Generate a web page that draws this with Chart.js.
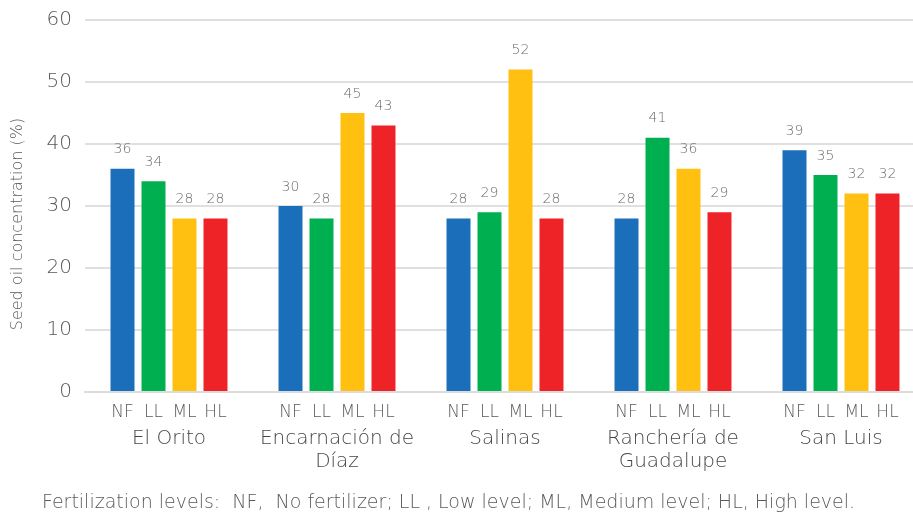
<!DOCTYPE html>
<html>
<head>
<meta charset="utf-8">
<script src="https://cdn.jsdelivr.net/npm/chart.js@4"></script>
<style>
    html, body { margin: 0; padding: 0; background: #fff; overflow: hidden; }
    #wrap { width: 925px; height: 513px; }
</style>
</head>
<body>
<div id="wrap"><canvas id="oilChart"></canvas></div>
<script>
const sites = [["El Orito"], ["Encarnación de", "Díaz"], ["Salinas"], ["Ranchería de", "Guadalupe"], ["San Luis"]];
const levels = ["NF", "LL", "ML", "HL"];
const nfValues = [36, 30, 28, 28, 39];
const llValues = [34, 28, 29, 41, 35];
const mlValues = [28, 45, 52, 36, 32];
const hlValues = [28, 43, 28, 29, 32];
const yTicks = [0, 10, 20, 30, 40, 50, 60];
const yTitle = "Seed oil concentration (%)";
const footnote = "Fertilization levels:  NF,  No fertilizer; LL , Low level; ML, Medium level; HL, High level.";

const colors = ["#1b6fba", "#00b050", "#ffc012", "#ee2328"];
const fontFamily = "'DejaVu Sans', sans-serif";

// value labels, level labels under each bar, y title and the footnote
const annotate = {
    id: "annotate",
    afterDatasetsDraw(chart) {
        const ctx = chart.ctx;
        const bottom = chart.chartArea.bottom;
        ctx.save();
        ctx.textAlign = "center";
        ctx.textBaseline = "middle";
        chart.data.datasets.forEach((ds, i) => {
            const meta = chart.getDatasetMeta(i);
            meta.data.forEach((bar, j) => {
                ctx.fillStyle = "#6b6b6b";
                ctx.font = "200 14px " + fontFamily;
                ctx.fillText(ds.data[j], bar.x, bar.y - 19);
                ctx.fillStyle = "#595959";
                ctx.font = "200 17px " + fontFamily;
                ctx.fillText(levels[i], bar.x, bottom + 21);
            });
        });

        ctx.save();
        ctx.translate(18, 224);
        ctx.rotate(-Math.PI / 2);
        ctx.fillStyle = "#595959";
        ctx.font = "200 16px " + fontFamily;
        ctx.fillText(yTitle, 0, 0);
        ctx.restore();

        ctx.textAlign = "left";
        ctx.fillStyle = "#595959";
        ctx.font = "200 19px " + fontFamily;
        ctx.fillText(footnote, 42, 503);
        ctx.restore();
    },
};

new Chart(document.getElementById("oilChart"), {
    type: "bar",
    data: {
        labels: sites,
        datasets: [nfValues, llValues, mlValues, hlValues].map((vals, i) => ({
            label: levels[i],
            data: vals,
            backgroundColor: colors[i],
            categoryPercentage: 0.738,
            barPercentage: 0.774,
        })),
    },
    options: {
        responsive: true,
        maintainAspectRatio: false,
        animation: false,
        layout: { padding: 0 },
        plugins: {
            legend: { display: false },
            tooltip: { enabled: false },
        },
        scales: {
            x: {
                grid: { display: false, drawTicks: false },
                border: { color: "#dcdcdc", width: 2 },
                ticks: {
                    color: "#454545",
                    padding: 35,
                    font: { family: fontFamily, size: 20, weight: "200", lineHeight: 1.15 },
                    maxRotation: 0,
                },
                afterFit: (scale) => { scale.height = 121; },
            },
            y: {
                min: 0,
                max: 60,
                afterBuildTicks: (scale) => { scale.ticks = yTicks.map((v) => ({ value: v })); },
                grid: { color: "#e0e0e0", lineWidth: 2, drawTicks: false },
                border: { display: false },
                ticks: {
                    color: "#595959",
                    padding: 13,
                    font: { family: fontFamily, size: 20, weight: "200" },
                },
                afterFit: (scale) => {
                    scale.width = 85;
                    scale.paddingTop = 20;
                },
            },
        },
    },
    plugins: [annotate],
});
</script>
</body>
</html>
